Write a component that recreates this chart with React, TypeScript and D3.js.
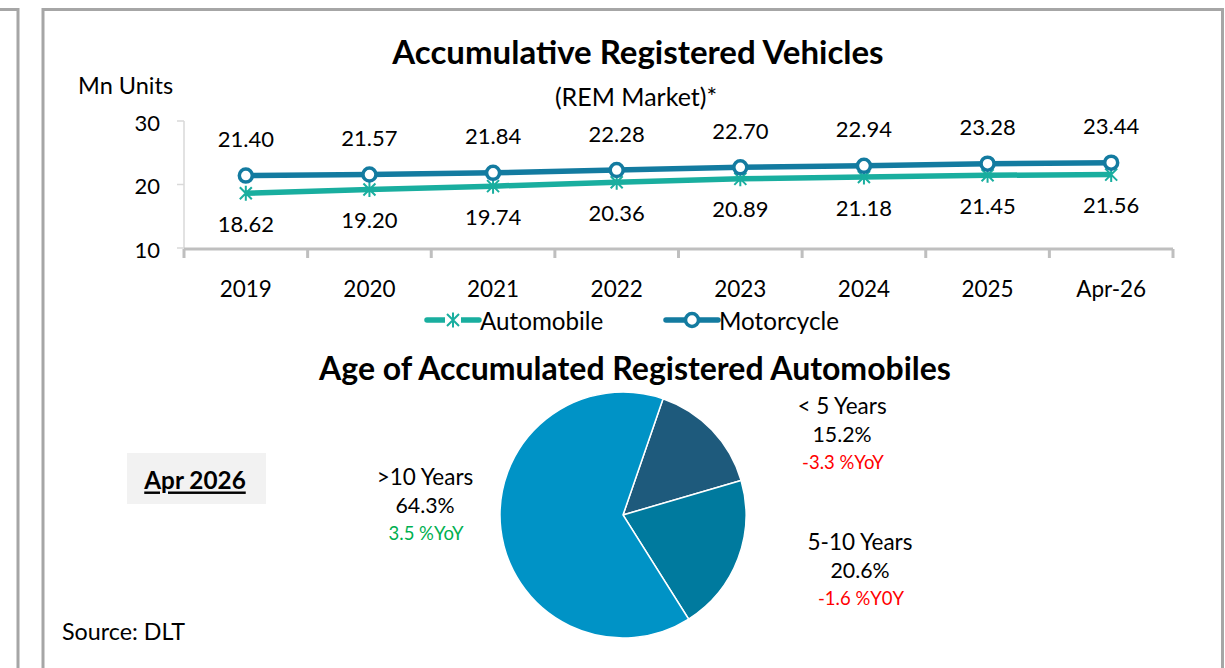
import React from "react";
import * as d3 from "d3";

const years = ["2019", "2020", "2021", "2022", "2023", "2024", "2025", "Apr-26"];
const automobile = [18.62, 19.2, 19.74, 20.36, 20.89, 21.18, 21.45, 21.56];
const motorcycle = [21.4, 21.57, 21.84, 22.28, 22.7, 22.94, 23.28, 23.44];
const yTicks = [10, 20, 30];

const ageLabels = ["< 5 Years", "5-10 Years", ">10 Years"];
const ageShares = [15.2, 20.6, 64.3];
const ageYoY = ["-3.3 %YoY", "-1.6 %Y0Y", "3.5 %YoY"];

const FONT = "Lato, 'Open Sans', sans-serif";
const AUTO = "#19AE9F";
const MOTO = "#137BA0";
const PIE_COLORS = ["#1E5A7C", "#007A9E", "#0093C6"];
const FRAME = "#A6A6A6";

function star(x: number, y: number, s: number) {
  return `M${x - s},${y - s}L${x + s},${y + s}M${x + s},${y - s}L${x - s},${y + s}M${x},${y - s - 1.5}L${x},${y + s + 1.5}`;
}

export default function App() {
  const x = d3.scaleBand<string>().domain(years).range([184, 1173]);
  const y = d3.scaleLinear().domain([10, 30]).range([248, 121]);
  const cx = (d: string) => (x(d) as number) + x.bandwidth() / 2;

  const line = d3
    .line<number>()
    .x((_, i) => cx(years[i]))
    .y((v) => y(v));

  const pieGen = d3
    .pie<number>()
    .sort(null)
    .startAngle((19 * Math.PI) / 180)
    .endAngle((19 * Math.PI) / 180 + 2 * Math.PI);
  const arcs = pieGen(ageShares);
  const arc = d3.arc<d3.PieArcDatum<number>>().innerRadius(0).outerRadius(123);
  const pcx = 623;
  const pcy = 515;

  const labelPos = [
    { x: 842, y: 405 },
    { x: 860, y: 541 },
    { x: 425, y: 476 },
  ];
  const yoyColor = ["#FF0000", "#FF0000", "#00B050"];

  const legend = [
    { name: "Automobile", color: AUTO, x0: 427, type: "star" },
    { name: "Motorcycle", color: MOTO, x0: 666, type: "circle" },
  ];

  return (
    <svg
      width={1225}
      height={668}
      style={{ position: "absolute", left: 0, top: 0, background: "#fff" }}
      fontFamily={FONT}
    >
      <rect x={0} y={0} width={1225} height={668} fill="#fff" />
      {/* frames */}
      <path d="M0,9.5H18V668" fill="none" stroke={FRAME} strokeWidth={3} />
      <path d="M43,668V9.5H1222.5V668" fill="none" stroke={FRAME} strokeWidth={3} />

      {/* titles */}
      <text x={638} y={51} textAnchor="middle" dominantBaseline="central" fontSize={33} fontWeight="bold" fill="#000">
        Accumulative Registered Vehicles
      </text>
      <text x={636} y={96} textAnchor="middle" dominantBaseline="central" fontSize={25} fill="#000">
        (REM Market)*
      </text>
      <text x={78} y={85} dominantBaseline="central" fontSize={23.5} fill="#000">
        Mn Units
      </text>

      {/* y axis */}
      <line x1={184} x2={184} y1={y(30)} y2={y(10)} stroke="#D9D9D9" strokeWidth={1.5} />
      {yTicks.map((t) => (
        <g key={t}>
          <line x1={177} x2={184} y1={y(t)} y2={y(t)} stroke="#D9D9D9" strokeWidth={1.5} />
          <text x={160} y={y(t) + 1} textAnchor="end" dominantBaseline="central" fontSize={22} fill="#000">
            {t}
          </text>
        </g>
      ))}

      {/* x axis */}
      <line x1={184} x2={1173} y1={249} y2={249} stroke="#BFBFBF" strokeWidth={3} />
      {years.map((d, i) => (
        <line key={"t" + i} x1={x(d) as number} x2={x(d) as number} y1={249} y2={258} stroke="#BFBFBF" strokeWidth={3} />
      ))}
      <line x1={1173} x2={1173} y1={249} y2={258} stroke="#BFBFBF" strokeWidth={3} />
      {years.map((d) => (
        <text key={d} x={cx(d)} y={288} textAnchor="middle" dominantBaseline="central" fontSize={22.5} fill="#000">
          {d}
        </text>
      ))}

      {/* lines */}
      <path d={line(automobile) || ""} fill="none" stroke={AUTO} strokeWidth={5.5} />
      <path d={line(motorcycle) || ""} fill="none" stroke={MOTO} strokeWidth={5.5} />
      {automobile.map((v, i) => (
        <path key={"a" + i} d={star(cx(years[i]), y(v), 6)} stroke={AUTO} strokeWidth={2} fill="none" />
      ))}
      {motorcycle.map((v, i) => (
        <circle key={"m" + i} cx={cx(years[i])} cy={y(v)} r={6.5} fill="#fff" stroke={MOTO} strokeWidth={3.5} />
      ))}
      {motorcycle.map((v, i) => (
        <text key={"ml" + i} x={cx(years[i])} y={y(v) - 37} textAnchor="middle" dominantBaseline="central" fontSize={22} fill="#000">
          {v.toFixed(2)}
        </text>
      ))}
      {automobile.map((v, i) => (
        <text key={"al" + i} x={cx(years[i])} y={y(v) + 30} textAnchor="middle" dominantBaseline="central" fontSize={22} fill="#000">
          {v.toFixed(2)}
        </text>
      ))}

      {/* legend */}
      {legend.map((l) => (
        <g key={l.name}>
          <line x1={l.x0} x2={l.x0 + 52} y1={320} y2={320} stroke={l.color} strokeWidth={5.5} strokeLinecap="round" />
          {l.type === "star" ? (
            <g>
              <rect x={l.x0 + 18} y={311} width={16} height={18} fill="#fff" />
              <path d={star(l.x0 + 26, 320, 6)} stroke={l.color} strokeWidth={2} fill="none" />
            </g>
          ) : (
            <circle cx={l.x0 + 26} cy={320} r={6.5} fill="#fff" stroke={l.color} strokeWidth={3.5} />
          )}
          <text x={l.x0 + 53} y={320} dominantBaseline="central" fontSize={24.2} fill="#000">
            {l.name}
          </text>
        </g>
      ))}

      {/* pie title */}
      <text x={635} y={367} textAnchor="middle" dominantBaseline="central" fontSize={32} fontWeight="bold" fill="#000">
        Age of Accumulated Registered Automobiles
      </text>

      {/* pie */}
      <g transform={`translate(${pcx},${pcy})`}>
        {arcs.map((a, i) => (
          <path key={i} d={arc(a) || ""} fill={PIE_COLORS[i]} stroke="#fff" strokeWidth={1.5} />
        ))}
      </g>
      {ageLabels.map((l, i) => (
        <g key={l}>
          <text x={labelPos[i].x} y={labelPos[i].y} textAnchor="middle" dominantBaseline="central" fontSize={22.5} fill="#000">
            {l}
          </text>
          <text x={labelPos[i].x} y={labelPos[i].y + 29} textAnchor="middle" dominantBaseline="central" fontSize={21.3} fill="#000">
            {ageShares[i].toFixed(1) + "%"}
          </text>
          <text x={labelPos[i].x + 1} y={labelPos[i].y + 57} textAnchor="middle" dominantBaseline="central" fontSize={18.5} fill={yoyColor[i]}>
            {ageYoY[i]}
          </text>
        </g>
      ))}

      {/* Apr 2026 box */}
      <rect x={127} y={453} width={139} height={51} fill="#F2F2F2" />
      <text x={195} y={479} textAnchor="middle" dominantBaseline="central" fontSize={24.3} fontWeight="bold" textDecoration="underline" fill="#000">
        Apr 2026
      </text>

      <text x={62} y={631} dominantBaseline="central" fontSize={23.3} fill="#000">
        Source: DLT
      </text>
    </svg>
  );
}
